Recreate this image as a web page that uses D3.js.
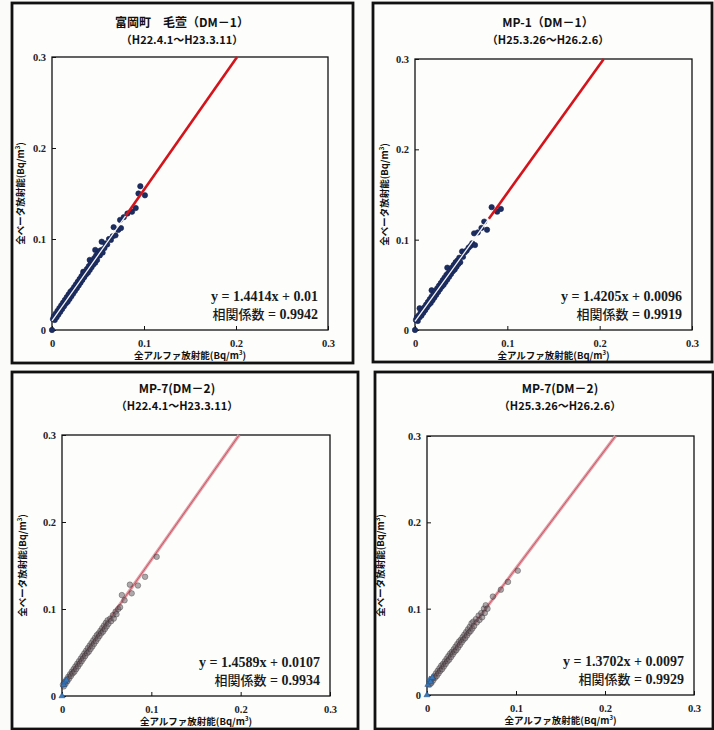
<!DOCTYPE html>
<html>
<head>
<meta charset="utf-8">
<script src="https://cdn.jsdelivr.net/npm/d3@7"></script>
<style>
  body { margin: 0; background: #fbfbf9; }
  svg { display: block; }
  .tick-label { font-family: "Liberation Serif", "DejaVu Serif", serif; font-weight: bold; font-size: 10.5px; fill: #222; }
  .title { font-family: "Noto Sans CJK JP", sans-serif; font-weight: bold; font-size: 12px; fill: #111; }
  .axis-title { font-family: "Noto Sans CJK JP", sans-serif; font-weight: bold; font-size: 9.5px; fill: #111; }
  .eq { font-family: "Liberation Serif", "DejaVu Serif", serif; font-weight: bold; font-size: 14px; fill: #1a1a1a; }
  .eq-jp { font-family: "Noto Sans CJK JP", sans-serif; font-weight: 500; font-size: 13px; fill: #1a1a1a; }
</style>
</head>
<body>
<svg id="chart" width="714" height="730"></svg>
<script>
// --- data ---
var titles = ['富岡町　毛萱（DM－1）', 'MP-1（DM－1）', 'MP-7(DM－2)', 'MP-7(DM－2)']
var periods = ['（H22.4.1～H23.3.11）', '（H25.3.26～H26.2.6）', '（H22.4.1～H23.3.11）', '（H25.3.26～H26.2.6）']
var slopes = [1.4414, 1.4205, 1.4589, 1.3702]
var intercepts = [0.01, 0.0096, 0.0107, 0.0097]
var interceptLabels = ['0.01', '0.0096', '0.0107', '0.0097']
var correlations = ['0.9942', '0.9919', '0.9934', '0.9929']
var tickValues = [0, 0.1, 0.2, 0.3]
var tickLabels = ['0', '0.1', '0.2', '0.3']

// gross alpha, gross beta (Bq/m3)
var pointsDM1a = [
  [0, 0], [0.001, 0.012], [0.002, 0.015], [0.003, 0.011], [0.004, 0.018], [0.005, 0.014],
  [0.006, 0.021], [0.007, 0.017], [0.008, 0.024], [0.009, 0.02], [0.01, 0.027], [0.011, 0.023],
  [0.012, 0.03], [0.013, 0.026], [0.014, 0.033], [0.015, 0.029], [0.016, 0.036], [0.017, 0.031],
  [0.018, 0.039], [0.019, 0.034], [0.02, 0.042], [0.021, 0.037], [0.022, 0.044], [0.023, 0.04],
  [0.024, 0.047], [0.025, 0.043], [0.026, 0.05], [0.027, 0.046], [0.028, 0.053], [0.029, 0.049],
  [0.03, 0.056], [0.031, 0.052], [0.032, 0.059], [0.033, 0.055], [0.034, 0.064], [0.034, 0.062],
  [0.035, 0.058], [0.036, 0.064], [0.037, 0.061], [0.038, 0.067], [0.039, 0.063], [0.04, 0.07],
  [0.041, 0.077], [0.041, 0.066], [0.042, 0.073], [0.043, 0.069], [0.044, 0.076], [0.045, 0.072],
  [0.046, 0.079], [0.047, 0.088], [0.047, 0.074], [0.048, 0.082], [0.049, 0.077], [0.05, 0.084],
  [0.052, 0.087], [0.052, 0.082], [0.054, 0.097], [0.054, 0.088], [0.055, 0.085], [0.057, 0.09],
  [0.058, 0.095], [0.06, 0.094], [0.062, 0.1], [0.064, 0.099], [0.066, 0.103], [0.067, 0.113],
  [0.069, 0.104], [0.072, 0.11], [0.074, 0.121], [0.075, 0.112], [0.078, 0.124], [0.082, 0.128],
  [0.087, 0.13], [0.091, 0.134], [0.094, 0.15], [0.096, 0.158], [0.101, 0.148]
]
var pointsDM1b = [
  [0, 0], [0.001, 0.011], [0.002, 0.014], [0.003, 0.01], [0.004, 0.016], [0.005, 0.024],
  [0.005, 0.014], [0.006, 0.019], [0.007, 0.016], [0.008, 0.022], [0.009, 0.019], [0.01, 0.025],
  [0.011, 0.022], [0.012, 0.028], [0.013, 0.025], [0.014, 0.031], [0.015, 0.028], [0.016, 0.034],
  [0.017, 0.03], [0.018, 0.044], [0.018, 0.037], [0.019, 0.033], [0.02, 0.04], [0.021, 0.036],
  [0.022, 0.043], [0.023, 0.039], [0.024, 0.046], [0.025, 0.042], [0.026, 0.049], [0.027, 0.045],
  [0.028, 0.052], [0.029, 0.048], [0.03, 0.055], [0.031, 0.05], [0.032, 0.058], [0.033, 0.053],
  [0.034, 0.061], [0.035, 0.069], [0.035, 0.056], [0.036, 0.063], [0.037, 0.059], [0.038, 0.066],
  [0.039, 0.062], [0.04, 0.069], [0.041, 0.065], [0.042, 0.072], [0.043, 0.067], [0.044, 0.075],
  [0.045, 0.07], [0.046, 0.077], [0.047, 0.073], [0.048, 0.08], [0.049, 0.075], [0.051, 0.087],
  [0.052, 0.081], [0.054, 0.086], [0.056, 0.088], [0.058, 0.091], [0.06, 0.093], [0.062, 0.096],
  [0.064, 0.107], [0.065, 0.094], [0.068, 0.108], [0.072, 0.113], [0.075, 0.12], [0.078, 0.111],
  [0.083, 0.136], [0.089, 0.131], [0.093, 0.134]
]
var pointsDM2a = [
  [0.001, 0.013], [0.002, 0.011], [0.003, 0.016], [0.004, 0.014], [0.005, 0.019], [0.006, 0.017],
  [0.007, 0.022], [0.008, 0.02], [0.009, 0.025], [0.01, 0.023], [0.011, 0.028], [0.012, 0.026],
  [0.013, 0.031], [0.014, 0.028], [0.015, 0.034], [0.016, 0.031], [0.017, 0.037], [0.018, 0.034],
  [0.019, 0.04], [0.02, 0.037], [0.021, 0.043], [0.022, 0.04], [0.023, 0.046], [0.024, 0.043],
  [0.025, 0.049], [0.026, 0.046], [0.027, 0.052], [0.028, 0.049], [0.029, 0.055], [0.03, 0.051],
  [0.031, 0.058], [0.032, 0.054], [0.033, 0.061], [0.034, 0.057], [0.035, 0.064], [0.036, 0.06],
  [0.037, 0.067], [0.038, 0.063], [0.039, 0.07], [0.04, 0.066], [0.041, 0.072], [0.042, 0.069],
  [0.043, 0.075], [0.044, 0.072], [0.045, 0.078], [0.046, 0.074], [0.047, 0.081], [0.048, 0.077],
  [0.049, 0.084], [0.05, 0.08], [0.051, 0.087], [0.052, 0.083], [0.054, 0.089], [0.055, 0.086],
  [0.057, 0.093], [0.058, 0.089], [0.06, 0.097], [0.061, 0.094], [0.063, 0.1], [0.065, 0.102],
  [0.067, 0.116], [0.07, 0.11], [0.076, 0.128], [0.078, 0.118], [0.085, 0.127], [0.093, 0.137],
  [0.106, 0.16]
]
var pointsDM2b = [
  [0.003, 0.012], [0.004, 0.016], [0.005, 0.014], [0.006, 0.019], [0.007, 0.017], [0.008, 0.022],
  [0.009, 0.02], [0.01, 0.025], [0.011, 0.022], [0.012, 0.028], [0.013, 0.025], [0.014, 0.031],
  [0.015, 0.028], [0.016, 0.034], [0.017, 0.03], [0.018, 0.036], [0.019, 0.033], [0.02, 0.039],
  [0.021, 0.036], [0.022, 0.042], [0.023, 0.039], [0.024, 0.045], [0.025, 0.041], [0.026, 0.048],
  [0.027, 0.044], [0.028, 0.05], [0.029, 0.047], [0.03, 0.053], [0.031, 0.05], [0.032, 0.056],
  [0.033, 0.052], [0.034, 0.059], [0.035, 0.055], [0.036, 0.062], [0.037, 0.058], [0.038, 0.064],
  [0.039, 0.061], [0.04, 0.067], [0.041, 0.064], [0.042, 0.07], [0.043, 0.066], [0.044, 0.073],
  [0.045, 0.069], [0.046, 0.076], [0.047, 0.072], [0.048, 0.079], [0.049, 0.074], [0.05, 0.083],
  [0.051, 0.077], [0.052, 0.085], [0.053, 0.08], [0.055, 0.088], [0.056, 0.084], [0.058, 0.092],
  [0.059, 0.087], [0.061, 0.095], [0.062, 0.09], [0.064, 0.1], [0.065, 0.095], [0.066, 0.104],
  [0.068, 0.1], [0.074, 0.114], [0.083, 0.122], [0.091, 0.131], [0.102, 0.144]
]
// small blue marks close to the origin in the lower charts
var originDM2a = [[0, 0], [0.002, 0.013], [0.003, 0.016], [0.005, 0.018]]
var originDM2b = [[0, 0], [0.001, 0.012], [0.003, 0.018], [0.004, 0.015], [0.006, 0.02]]

// --- layout (pixels) ---
var layout = [
  { plot: [52, 57, 328, 330], frame: [12, 3, 353, 363], cx: 182, ty: 27, yTitleX: 24, style: 'dark' },
  { plot: [415, 59, 692, 330], frame: [373, 3, 712, 362], cx: 548, ty: 27, yTitleX: 388, style: 'dark' },
  { plot: [62, 435, 330, 696], frame: [12, 372, 358, 729], cx: 177, ty: 393, yTitleX: 26, style: 'light' },
  { plot: [427, 436, 694, 695], frame: [375, 372, 713, 729], cx: 560, ty: 393, yTitleX: 384, style: 'light' }
]
var pointSets = [pointsDM1a, pointsDM1b, pointsDM2a, pointsDM2b]
var originSets = [[], [], originDM2a, originDM2b]

var svg = d3.select('#chart')

layout.forEach(function(L, i) {
    var g = svg.append('g').attr('class', 'panel')
    var x = d3.scaleLinear().domain([0, 0.3]).range([L.plot[0], L.plot[2]])
    var y = d3.scaleLinear().domain([0, 0.3]).range([L.plot[3], L.plot[1]])

    // outer frame
    g.append('rect')
        .attr('x', L.frame[0]).attr('y', L.frame[1])
        .attr('width', L.frame[2] - L.frame[0]).attr('height', L.frame[3] - L.frame[1])
        .attr('fill', '#fdfdfc').attr('stroke', '#111').attr('stroke-width', 2.8)

    // titles
    g.append('text').attr('class', 'title').attr('x', L.cx).attr('y', L.ty)
        .attr('text-anchor', 'middle').text(titles[i])
    g.append('text').attr('class', 'title').attr('x', L.cx).attr('y', L.ty + 17)
        .attr('text-anchor', 'middle').style('font-size', '11px').text(periods[i])

    // plot box
    g.append('rect')
        .attr('x', L.plot[0]).attr('y', L.plot[1])
        .attr('width', L.plot[2] - L.plot[0]).attr('height', L.plot[3] - L.plot[1])
        .attr('fill', 'none').attr('stroke', '#111').attr('stroke-width', 1.3)

    // axes through d3 axis generators, then restyled
    var xAxis = d3.axisBottom(x).tickValues(tickValues).tickSize(-4)
        .tickFormat(function(d, k) { return tickLabels[k] })
    var yAxis = d3.axisLeft(y).tickValues(tickValues).tickSize(-4)
        .tickFormat(function(d, k) { return tickLabels[k] })
    var xa = g.append('g').attr('transform', 'translate(0,' + L.plot[3] + ')').call(xAxis)
    var ya = g.append('g').attr('transform', 'translate(' + L.plot[0] + ',0)').call(yAxis)
    ;[xa, ya].forEach(function(a) {
        a.select('.domain').remove()
        a.selectAll('line').attr('stroke', '#111').attr('stroke-width', 1)
        a.selectAll('text').attr('class', 'tick-label').attr('fill', null)
    })
    xa.selectAll('text').attr('dy', null).attr('y', 17)
    ya.selectAll('text').attr('x', -6)

    // axis titles
    g.append('text').attr('class', 'axis-title')
        .attr('x', (L.plot[0] + L.plot[2]) / 2).attr('y', L.plot[3] + 29)
        .attr('text-anchor', 'middle')
        .html('全アルファ放射能(Bq/m<tspan dy="-4" font-size="6">3</tspan><tspan dy="4">)</tspan>')
    g.append('text').attr('class', 'axis-title')
        .attr('transform', 'translate(' + L.yTitleX + ',' + ((L.plot[1] + L.plot[3]) / 2) + ') rotate(-90)')
        .attr('text-anchor', 'middle')
        .html('全ベータ放射能(Bq/m<tspan dy="-4" font-size="6">3</tspan><tspan dy="4">)</tspan>')

    var slope = slopes[i], icpt = intercepts[i]
    var xTop = (0.3 - icpt) / slope
    var pts = pointSets[i]

    if (L.style == 'dark') {
        g.append('g').selectAll('circle')
            .data(pts)
            .enter()
            .append('circle')
            .attr('cx', function(d) { return x(d[0]) })
            .attr('cy', function(d) { return y(d[1]) })
            .attr('r', 2.7)
            .style('fill', '#1c2d62')
            .style('stroke', '#16244f')
            .style('stroke-width', 0.6)
        // trend line: white through the cloud, red beyond it
        g.append('line')
            .attr('x1', x(0)).attr('y1', y(icpt))
            .attr('x2', x(0.08)).attr('y2', y(icpt + slope * 0.08))
            .style('stroke', '#f4f4f4').style('stroke-width', 1.3)
        g.append('line')
            .attr('x1', x(0.08)).attr('y1', y(icpt + slope * 0.08))
            .attr('x2', x(xTop)).attr('y2', y(0.3))
            .style('stroke', '#d4141b').style('stroke-width', 2.6)
    } else {
        g.append('line')
            .attr('x1', x(0)).attr('y1', y(icpt))
            .attr('x2', x(xTop)).attr('y2', y(0.3))
            .style('stroke', '#e2a0a8').style('stroke-width', 3.2)
        g.append('line')
            .attr('x1', x(0)).attr('y1', y(icpt))
            .attr('x2', x(xTop)).attr('y2', y(0.3))
            .style('stroke', '#c4505f').style('stroke-width', 0.9)
        g.append('g').selectAll('circle')
            .data(pts)
            .enter()
            .append('circle')
            .attr('cx', function(d) { return x(d[0]) })
            .attr('cy', function(d) { return y(d[1]) })
            .attr('r', 2.8)
            .style('fill', '#6e6268')
            .style('fill-opacity', 0.55)
            .style('stroke', '#111')
            .style('stroke-width', 0.5)
            .style('stroke-opacity', 0.6)
        g.append('g').selectAll('path')
            .data(originSets[i])
            .enter()
            .append('path')
            .attr('d', d3.symbol().type(d3.symbolTriangle).size(16))
            .attr('transform', function(d) { return 'translate(' + x(d[0]) + ',' + y(d[1]) + ')' })
            .style('fill', '#3a78b8')
            .style('stroke', '#1d4f86')
            .style('stroke-width', 0.5)
    }

    // regression text
    var ex = L.plot[2] - 10
    g.append('text').attr('class', 'eq').attr('x', ex).attr('y', L.plot[3] - 29)
        .attr('text-anchor', 'end')
        .text('y = ' + slope.toFixed(4) + 'x + ' + interceptLabels[i])
    var t2 = g.append('text').attr('class', 'eq').attr('x', ex).attr('y', L.plot[3] - 11)
        .attr('text-anchor', 'end')
    t2.append('tspan').attr('class', 'eq-jp').text('相関係数')
    t2.append('tspan').text(' = ' + correlations[i])
})
</script>
</body>
</html>
